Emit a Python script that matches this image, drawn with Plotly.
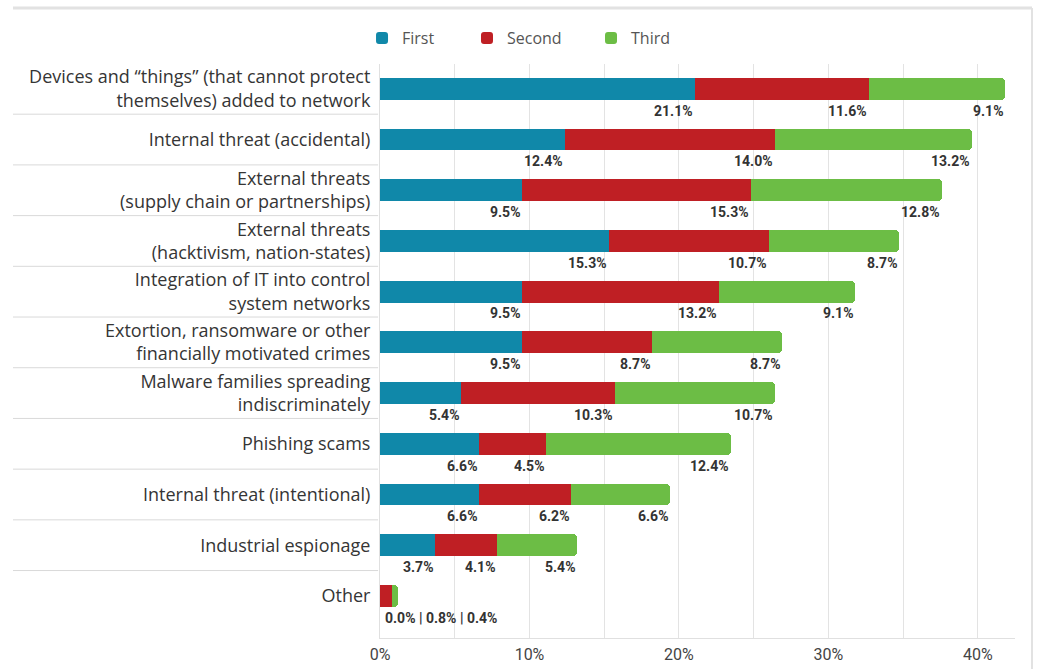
import plotly.graph_objects as go

# Threat categories, top to bottom
categories = [
    "Devices and \u201cthings\u201d (that cannot protect<br>themselves) added to network",
    "Internal threat (accidental)",
    "External threats<br>(supply chain or partnerships)",
    "External threats<br>(hacktivism, nation-states)",
    "Integration of IT into control<br>system networks",
    "Extortion, ransomware or other<br>financially motivated crimes",
    "Malware families spreading<br>indiscriminately",
    "Phishing scams",
    "Internal threat (intentional)",
    "Industrial espionage",
    "Other",
]

# Share of respondents ranking each threat first / second / third (%)
first = [21.1, 12.4, 9.5, 15.3, 9.5, 9.5, 5.4, 6.6, 6.6, 3.7, 0.0]
second = [11.6, 14.0, 15.3, 10.7, 13.2, 8.7, 10.3, 4.5, 6.2, 4.1, 0.8]
third = [9.1, 13.2, 12.8, 8.7, 9.1, 8.7, 10.7, 12.4, 6.6, 5.4, 0.4]

series_names = ["First", "Second", "Third"]
series_values = [first, second, third]
series_colors = ["#1088A9", "#BF1F24", "#6CBD45"]

x_ticks = [0, 10, 20, 30, 40]
x_tick_labels = ["0%", "10%", "20%", "30%", "40%"]

LABEL_FONT = "Open Sans, Noto Sans, sans-serif"
NUM_FONT = "Roboto, Liberation Sans, sans-serif"

pos = list(range(len(categories)))

# Each series gets its own legend box so the keys can sit at fixed spots
legend_ids = ["legend", "legend2", "legend3"]
legend_x = [-0.0283, 0.137, 0.3323]

fig = go.Figure()
for name, vals, color, lid in zip(series_names, series_values, series_colors, legend_ids):
    fig.add_trace(go.Bar(
        name=name,
        x=vals,
        y=pos,
        orientation="h",
        width=0.43,
        marker=dict(color=color, line=dict(width=0)),
        hoverinfo="x+name",
        legend=lid,
    ))

# Value labels under each segment, right-aligned to the segment's end
annotations = []
for i in pos:
    if i == len(categories) - 1:
        text = " | ".join(f"{v[i]:.1f}%" for v in series_values)
        annotations.append(dict(
            x=0.2, y=i + 0.43, xref="x", yref="y", text=f"<b>{text}</b>",
            showarrow=False, xanchor="left", yanchor="middle",
            font=dict(family=NUM_FONT, size=14, color="#333333"),
        ))
        continue
    cum = 0.0
    for vals in series_values:
        cum += vals[i]
        annotations.append(dict(
            x=cum, y=i + 0.43, xref="x", yref="y", text=f"<b>{vals[i]:.1f}%</b>",
            showarrow=False, xanchor="right", yanchor="middle",
            font=dict(family=NUM_FONT, size=14, color="#333333"),
        ))

# Separators between category labels, plus outer frame lines
shapes = []
x_left = (13 - 380) / 635
for i in range(len(categories) - 1):
    shapes.append(dict(
        type="line", xref="paper", yref="y",
        x0=x_left, x1=-0.003, y0=i + 0.5, y1=i + 0.5,
        line=dict(color="#d9d9d9", width=1),
    ))
shapes.append(dict(
    type="line", xref="paper", yref="paper",
    x0=x_left, x1=(1032 - 380) / 635, y0=(638 - 8) / 574, y1=(638 - 8) / 574,
    line=dict(color="#e2e2e2", width=3),
))
shapes.append(dict(
    type="line", xref="paper", yref="paper",
    x0=(1032 - 380) / 635, x1=(1032 - 380) / 635,
    y0=(638 - 8) / 574, y1=(638 - 669) / 574,
    line=dict(color="#e2e2e2", width=2),
))

legend_style = dict(
    orientation="h",
    y=1.045, xanchor="left", yanchor="middle",
    font=dict(family=LABEL_FONT, size=16, color="#555555"),
    bgcolor="rgba(0,0,0,0)",
    itemclick=False,
    itemdoubleclick=False,
)

fig.update_layout(
    width=1038,
    height=669,
    barmode="stack",
    barcornerradius=4,
    bargap=0,
    plot_bgcolor="white",
    paper_bgcolor="white",
    margin=dict(l=380, r=23, t=64, b=31, autoexpand=False),
    showlegend=True,
    legend=dict(x=legend_x[0], **legend_style),
    legend2=dict(x=legend_x[1], **legend_style),
    legend3=dict(x=legend_x[2], **legend_style),
    xaxis=dict(
        range=[0, 42.48],
        tickvals=x_ticks,
        ticktext=x_tick_labels,
        showgrid=True,
        gridcolor="#e3e3e3",
        gridwidth=1,
        minor=dict(dtick=5, showgrid=True, gridcolor="#e3e3e3", gridwidth=1),
        zeroline=False,
        showline=True,
        linecolor="#e0e0e0",
        linewidth=1,
        ticks="",
        ticklabelstandoff=2,
        tickfont=dict(family=NUM_FONT, size=16, color="#444444"),
        automargin=False,
        fixedrange=True,
    ),
    yaxis=dict(
        range=[10.83, -0.49],
        tickvals=pos,
        ticktext=categories,
        showgrid=False,
        zeroline=False,
        showline=True,
        linecolor="#e0e0e0",
        linewidth=1,
        ticks="",
        ticklabelstandoff=5,
        tickfont=dict(family=LABEL_FONT, size=18, color="#353535"),
        automargin=False,
        fixedrange=True,
    ),
    annotations=annotations,
    shapes=shapes,
)

fig.write_html("out.html")
